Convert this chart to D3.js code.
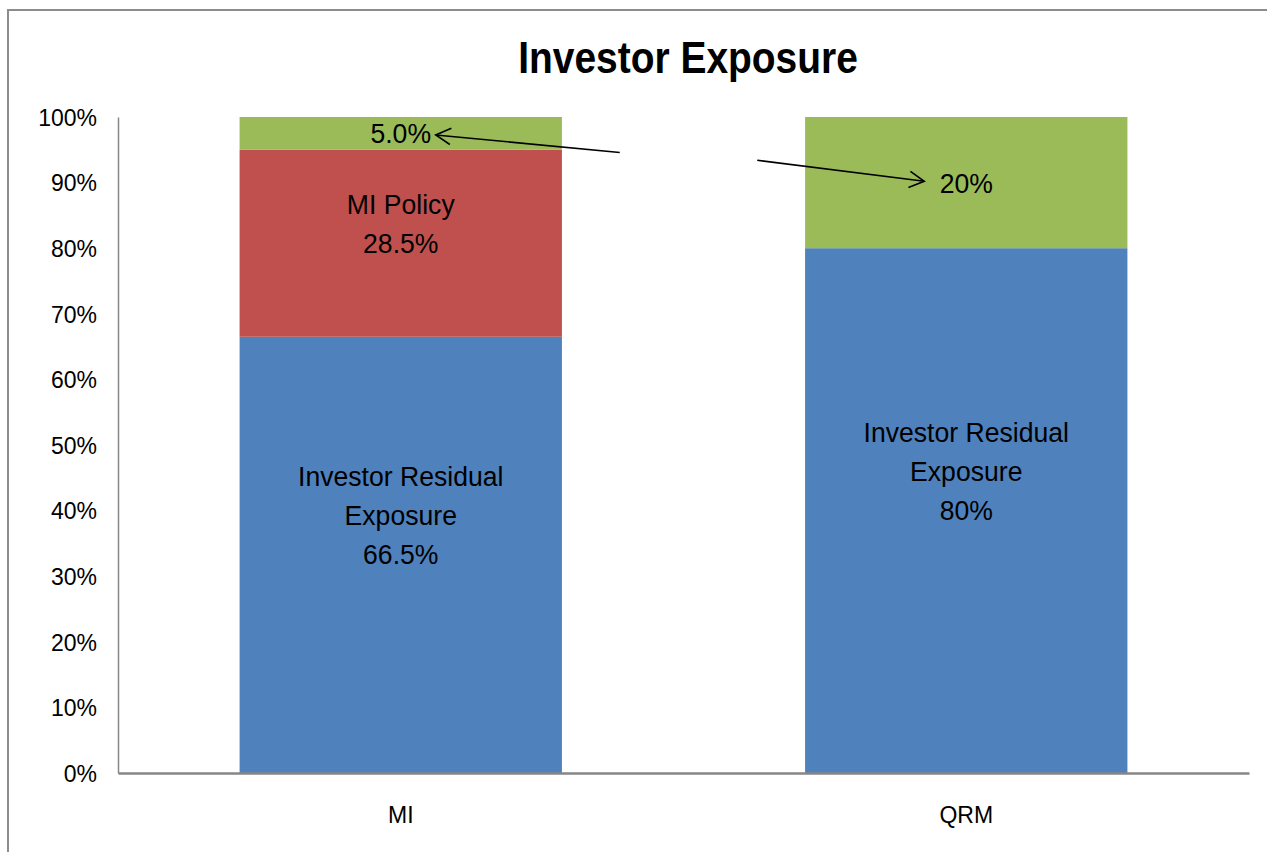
<!DOCTYPE html>
<html>
<head>
<meta charset="utf-8">
<script src="https://cdn.jsdelivr.net/npm/d3@7"></script>
<style>
  html, body { margin: 0; padding: 0; background: #fff; }
  svg { display: block; }
  text { font-family: "Liberation Sans", Arial, sans-serif; fill: #000; }
</style>
</head>
<body>
<svg id="chart" width="1267" height="852"></svg>
<script>
// ---- data ----
const categories = ["MI", "QRM"];
const residualValues = [0.665, 0.80];   // Investor Residual Exposure
const policyValues   = [0.285, 0.0];    // MI Policy
const topValues      = [0.05, 0.20];    // top (green) segment
const residualLabels = [["Investor Residual", "Exposure", "66.5%"], ["Investor Residual", "Exposure", "80%"]];
const policyLabels   = [["MI Policy", "28.5%"], []];
const topLabels      = [["5.0%"], ["20%"]];
const yTicks = [0, 0.1, 0.2, 0.3, 0.4, 0.5, 0.6, 0.7, 0.8, 0.9, 1.0];
const tickLabels = ["0%", "10%", "20%", "30%", "40%", "50%", "60%", "70%", "80%", "90%", "100%"];
const title = "Investor Exposure";

const colors = { residual: "#4F81BD", policy: "#C0504D", top: "#9BBB59" };

const svg = d3.select("#chart");

// outer frame (extends beyond right/bottom edges, as in the reference)
svg.append("rect")
  .attr("x", 8).attr("y", 10).attr("width", 1400).attr("height", 1000)
  .attr("fill", "none").attr("stroke", "#8c8c8c").attr("stroke-width", 2);

// scales
const x = d3.scaleBand().domain(categories).range([118, 1249])
  .paddingInner(0.43).paddingOuter(0.215);
const y = d3.scaleLinear().domain([0, 1]).range([773, 117]);

// stacked data
const stacks = categories.map((c, i) => {
  const segs = [];
  let base = 0;
  [["residual", residualValues[i], residualLabels[i], -40],
   ["policy", policyValues[i], policyLabels[i], -20],
   ["top", topValues[i], topLabels[i], 0]].forEach(([key, v, lab, shift]) => {
    segs.push({ cat: c, key, y0: base, y1: base + v, labels: lab, shift });
    base += v;
  });
  return segs;
}).flat();

const g = svg.append("g");
g.selectAll("rect.seg").data(stacks.filter(d => d.y1 > d.y0)).join("rect")
  .attr("class", "seg")
  .attr("x", d => x(d.cat))
  .attr("width", x.bandwidth())
  .attr("y", d => y(d.y1))
  .attr("height", d => y(d.y0) - y(d.y1))
  .attr("fill", d => colors[d.key]);

// axes
const yAxis = d3.axisLeft(y).tickValues(yTicks).tickSize(0).tickPadding(21)
  .tickFormat((d, i) => tickLabels[i]);
const ya = svg.append("g").attr("transform", "translate(118,0)").call(yAxis);
ya.select(".domain").attr("stroke", "#868686").attr("stroke-width", 1.5);
ya.selectAll(".tick text")
  .attr("font-size", 23).attr("font-family", "Liberation Sans, Arial, sans-serif")
  .attr("fill", "#000").attr("dy", "0.36em");

const xAxis = d3.axisBottom(x).tickSize(0).tickPadding(34);
const xa = svg.append("g").attr("transform", `translate(0,${y(0)})`).call(xAxis);
xa.select(".domain").attr("stroke", "#868686").attr("stroke-width", 2.5);
xa.selectAll(".tick text")
  .attr("font-size", 23).attr("font-family", "Liberation Sans, Arial, sans-serif")
  .attr("fill", "#000");

// data labels
const lineH = 39;
stacks.filter(d => d.labels.length).forEach(d => {
  const cx = x(d.cat) + x.bandwidth() / 2;
  const center = y((d.y0 + d.y1) / 2) + d.shift;
  const first = center - (d.labels.length - 1) * lineH / 2 + 10;
  d.labels.forEach((t, k) => {
    svg.append("text")
      .attr("transform", `translate(${cx},${first + k * lineH}) scale(0.95,1)`)
      .attr("text-anchor", "middle")
      .attr("font-size", 28)
      .text(t);
  });
});

// annotation arrows (positions relative to category centres and y scale)
const arrows = [
  { from: [x("MI") + x.bandwidth() / 2 + 219, y(0.946)], to: [x("MI") + x.bandwidth() / 2 + 35, y(0.9726)] },
  { from: [x("QRM") + x.bandwidth() / 2 - 209, y(0.934)], to: [x("QRM") + x.bandwidth() / 2 - 42, y(0.902)] }
];
arrows.forEach(a => {
  const [x1, y1] = a.from, [x2, y2] = a.to;
  svg.append("line").attr("x1", x1).attr("y1", y1).attr("x2", x2).attr("y2", y2)
    .attr("stroke", "#000").attr("stroke-width", 1.6);
  const ang = Math.atan2(y1 - y2, x1 - x2);
  const L = 17, spread = 0.5;
  const p1 = [x2 + L * Math.cos(ang + spread), y2 + L * Math.sin(ang + spread)];
  const p2 = [x2 + L * Math.cos(ang - spread), y2 + L * Math.sin(ang - spread)];
  svg.append("path")
    .attr("d", `M${p1[0]},${p1[1]}L${x2},${y2}L${p2[0]},${p2[1]}`)
    .attr("fill", "none").attr("stroke", "#000").attr("stroke-width", 1.6);
});

// title
svg.append("text")
  .attr("transform", "translate(688,73) scale(0.885,1)")
  .attr("text-anchor", "middle")
  .attr("font-size", 44)
  .attr("font-weight", "bold")
  .text(title);
</script>
</body>
</html>
